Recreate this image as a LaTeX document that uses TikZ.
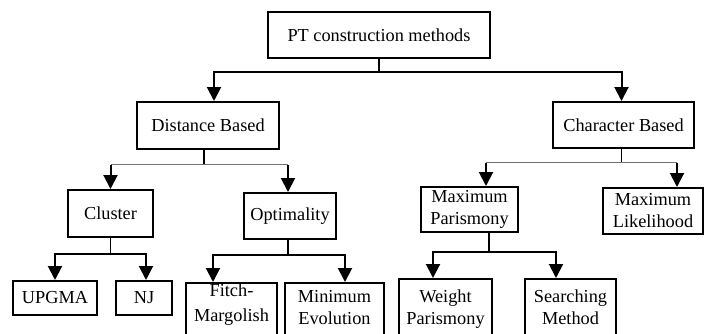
\documentclass[tikz,border=0pt]{standalone}
\usepackage{fontspec}
\setmainfont{Liberation Serif}
\usetikzlibrary{arrows.meta}

\begin{document}
\begin{tikzpicture}[x=1pt, y=-1pt,
  box/.style={draw, line width=1.5pt, anchor=north, inner sep=0pt, align=center,
              font=\fontsize{18.3}{22}\selectfont},
  cut/.style={box, text depth=40pt},
  arrow/.style={-{Triangle[width=14pt,length=14pt]}, line width=2pt},
  stem/.style={line width=1.5pt},
  bar/.style={line width=1.4pt, black!55}]
  \useasboundingbox (0,0) rectangle (704,333);
  \clip (0,0) rectangle (704,333);

  \node[box, minimum width=222pt, minimum height=46pt] (root)    at (379,11)    {PT construction methods};
  \node[box, minimum width=142pt, minimum height=47pt] (dist)    at (208,101)   {Distance Based};
  \node[box, minimum width=141pt, minimum height=46pt] (char)    at (623.5,101) {Character Based};
  \node[box, minimum width=85pt,  minimum height=47pt] (cluster) at (110.5,189) {Cluster};
  \node[box, minimum width=92pt,  minimum height=46pt] (optim)   at (290,192)   {Optimality};
  \node[box, minimum width=97pt,  minimum height=45pt] (maxpars) at (469.5,186) {Maximum\\Parismony};
  \node[box, minimum width=100pt, minimum height=46pt] (maxlik)  at (653,187)   {Maximum\\Likelihood};
  \node[box, minimum width=84pt,  minimum height=34pt] (upgma)   at (55,280)    {UPGMA};
  \node[box, minimum width=56pt,  minimum height=34pt] (nj)      at (144,280)   {NJ};
  \node[cut, minimum width=91pt, inner ysep=1pt]  (fitch)  at (231.5,282) {Fitch-\\[3pt]Margolish};
  \node[cut, minimum width=99pt, inner ysep=8pt]  (minev)  at (334.5,282) {Minimum\\Evolution};
  \node[cut, minimum width=93pt, inner ysep=11pt] (weight) at (445.5,278) {Weight\\Parismony};
  \node[cut, minimum width=91pt, inner ysep=11pt] (search) at (570.5,278) {Searching\\Method};

  % first level
  \draw[stem] (root.south) -- ++(0,13) coordinate (j0);
  \draw[arrow] (j0) -| ([xshift=6pt]dist.north);
  \draw[arrow] (j0) -| ([xshift=-2pt]char.north);

  % distance based
  \draw[stem] ([xshift=-4pt]dist.south) -- ++(0,15) coordinate (j1);
  \coordinate (cl in) at (cluster.north);
  \coordinate (op in) at ([xshift=-2pt]optim.north);
  \draw[bar] (j1 -| cl in) -- (j1 -| op in);
  \draw[arrow] (j1 -| cl in) -- (cl in);
  \draw[arrow] (j1 -| op in) -- (op in);

  % character based
  \draw[stem] ([xshift=-2pt]char.south) -- ++(0,14) coordinate (j2);
  \coordinate (mp in) at ([xshift=16.5pt]maxpars.north);
  \coordinate (ml in) at ([xshift=24pt]maxlik.north);
  \draw[bar] (j2 -| mp in) -- (j2 -| ml in);
  \draw[arrow] (j2 -| mp in) -- (mp in);
  \draw[arrow] (j2 -| ml in) -- (ml in);

  % leaves
  \draw[stem] (cluster.south) -- ++(0,16) coordinate (j3);
  \draw[arrow] (j3) -| (upgma.north);
  \draw[arrow] (j3) -| ([xshift=2pt]nj.north);

  \draw[stem] ([xshift=-2pt]optim.south) -- ++(0,15) coordinate (j4);
  \draw[arrow] (j4) -| ([xshift=-18.5pt]fitch.north);
  \draw[arrow] (j4) -| ([xshift=10.5pt]minev.north);

  \draw[stem] ([xshift=19.5pt]maxpars.south) -- ++(0,19) coordinate (j5);
  \draw[arrow] (j5) -| ([xshift=-12.5pt]weight.north);
  \draw[arrow] (j5) -| ([xshift=-14.5pt]search.north);
\end{tikzpicture}
\end{document}
